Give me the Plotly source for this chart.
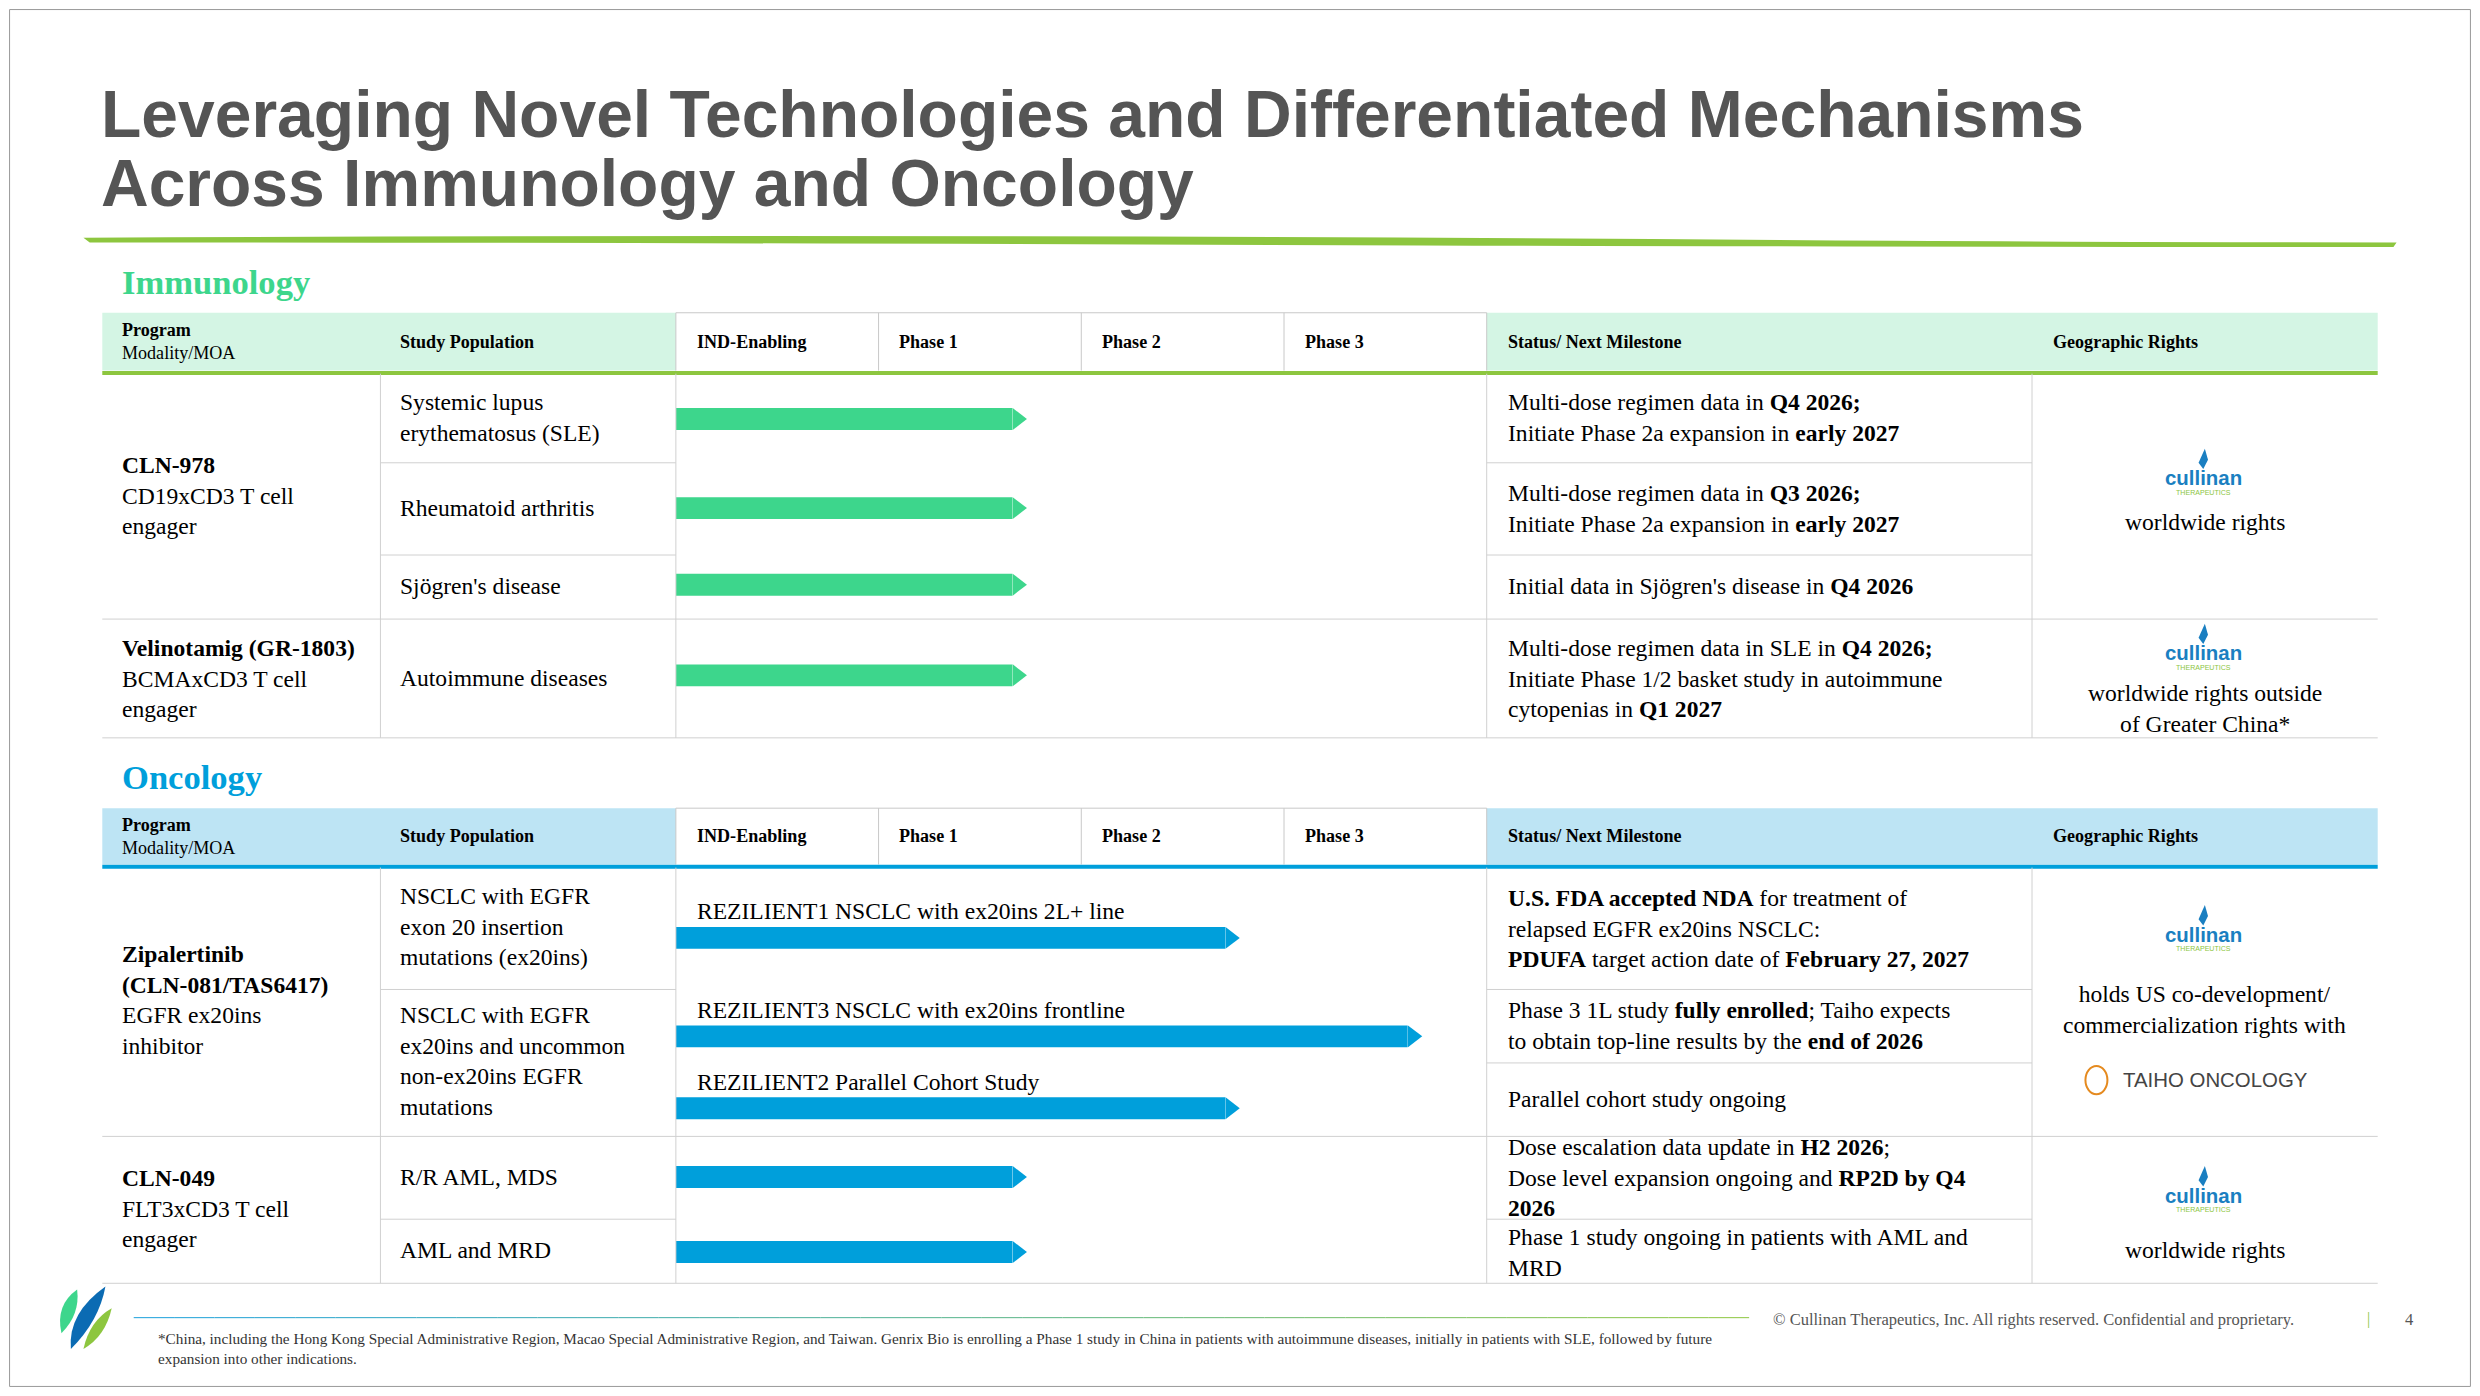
import plotly.graph_objects as go

W, H = 2464, 1380
S = W / 1568  # font scale from reference px

phases = ["IND-Enabling", "Phase 1", "Phase 2", "Phase 3"]

imm_bar_rows = ["SLE", "RA", "Sjogren", "Autoimmune"]
imm_bar_y = [263, 320, 369, 427]
imm_bar_end = [1.73, 1.73, 1.73, 1.73]

onc_bar_rows = ["REZILIENT1", "REZILIENT3", "REZILIENT2", "R/R AML, MDS", "AML and MRD"]
onc_bar_y = [595, 658, 704, 748, 796]
onc_bar_end = [2.78, 3.68, 2.78, 1.73, 1.73]
onc_bar_labels = ["REZILIENT1 NSCLC with ex20ins 2L+ line", "REZILIENT3 NSCLC with ex20ins frontline",
                  "REZILIENT2 Parallel Cohort Study", "", ""]

GREEN = "#3dd68c"
BLUE = "#009fdb"
GRID = "#d0d0d0"
SERIF = "Liberation Serif"

fig = go.Figure()

def arrows(ends, ys, color):
    fig.add_trace(go.Bar(x=[e - 0.07 for e in ends], y=ys, base=0, orientation="h", width=14,
                         marker=dict(color=color, line=dict(width=0)), xaxis="x2", yaxis="y",
                         showlegend=False, hoverinfo="skip"))
    fig.add_trace(go.Scatter(x=[e - 0.045 for e in ends], y=ys, mode="markers", xaxis="x2", yaxis="y",
                             marker=dict(symbol="triangle-right", size=19, color=color, line=dict(width=0)),
                             showlegend=False, hoverinfo="skip"))

arrows(imm_bar_end, imm_bar_y, GREEN)
arrows(onc_bar_end, onc_bar_y, BLUE)

shapes = []
ann = []

def rect(x0, y0, x1, y1, fill, line=None, lw=0):
    shapes.append(dict(type="rect", xref="x", yref="y", x0=x0, y0=y0, x1=x1, y1=y1,
                       fillcolor=fill, line=dict(color=line or fill, width=lw), layer="below"))

def hline(x0, x1, y, color=GRID, w=1):
    shapes.append(dict(type="line", xref="x", yref="y", x0=x0, x1=x1, y0=y, y1=y, line=dict(color=color, width=w)))

def vline(x, y0, y1, color=GRID, w=1):
    shapes.append(dict(type="line", xref="x", yref="y", x0=x, x1=x, y0=y0, y1=y1, line=dict(color=color, width=w)))

def text(x, y, t, size=15, color="#000", font=SERIF, anchor="left", yanchor="middle"):
    ann.append(dict(x=x, y=y, xref="x", yref="y", text=t, showarrow=False, xanchor=anchor, yanchor=yanchor,
                    align=anchor if anchor != "center" else "center",
                    font=dict(family=font, size=size * S, color=color)))

# slide border
shapes.append(dict(type="rect", xref="x", yref="y", x0=1, y0=1, x1=1567, y1=882, line=dict(color="#999", width=1)))

# title
text(58, 68, "<b>Leveraging Novel Technologies and Differentiated Mechanisms</b>",
     size=42, color="#555555", font="Liberation Sans")
text(58, 112, "<b>Across Immunology and Oncology</b>", size=42, color="#555555", font="Liberation Sans")
shapes.append(dict(type="path", xref="x", yref="y",
                   path="M 48 147 Q 600 144 1200 149 Q 1400 150 1520 150 L 1518 153 Q 1300 153 900 152 Q 400 150 52 150 Z",
                   fillcolor="#8dc63f", line=dict(width=0)))

cols = [60, 237, 425, 554, 683, 812, 941, 1288, 1508]
head_x = [71, 248, 437, 566, 695, 824, 953, 1300]
head_t = ["Study Population"] + phases + ["Status/ Next Milestone", "Geographic Rights"]

def header(y0, y1, fill, linecolor, title, tcolor):
    text(71, y0 - 20, "<b>" + title + "</b>", size=22, color=tcolor)
    rect(60, y0, 1508, y1, fill)
    for x in cols[2:7]:
        vline(x, y0, y1, color="#c8c8c8")
    hline(425, 941, y0, color="#c8c8c8")
    hline(60, 1508, y1 + 1.5, color=linecolor, w=4)
    text(71, (y0 + y1) / 2, "<b>Program</b><br>Modality/MOA", size=11.5)
    for x, t in zip(head_x[1:], head_t):
        text(x, (y0 + y1) / 2, "<b>" + t + "</b>", size=11.5)

header(195, 232, "#d4f5e4", "#8dc63f", "Immunology", GREEN)
header(512, 548, "#bde4f4", BLUE, "Oncology", BLUE)

# immunology grid
for x in [237, 425, 941, 1288]:
    vline(x, 234, 467)
for y in [291, 350]:
    hline(237, 425, y)
    hline(941, 1288, y)
hline(60, 1508, 391)
hline(60, 1508, 467)

text(71, 312, "<b>CLN-978</b><br>CD19xCD3 T cell<br>engager")
text(248, 262, "Systemic lupus<br>erythematosus (SLE)")
text(248, 320, "Rheumatoid arthritis")
text(248, 370, "Sjögren's disease")
text(953, 262, "Multi-dose regimen data in <b>Q4 2026;</b><br>Initiate Phase 2a expansion in <b>early 2027</b>")
text(953, 320, "Multi-dose regimen data in <b>Q3 2026;</b><br>Initiate Phase 2a expansion in <b>early 2027</b>")
text(953, 370, "Initial data in Sjögren's disease in <b>Q4 2026</b>")
text(71, 429, "<b>Velinotamig (GR-1803)</b><br>BCMAxCD3 T cell<br>engager")
text(248, 429, "Autoimmune diseases")
text(953, 429, "Multi-dose regimen data in SLE in <b>Q4 2026;</b><br>Initiate Phase 1/2 basket study in autoimmune<br>cytopenias in <b>Q1 2027</b>")

def cullinan(x, y):
    text(x, y, "<b>cullinan</b>", size=13, color="#1a7fc1", font="Liberation Sans", anchor="center")
    text(x, y + 9, "THERAPEUTICS", size=4.5, color="#8dc63f", font="Liberation Sans", anchor="center")
    shapes.append(dict(type="path", xref="x", yref="y",
                       path=f"M {x} {y-6} L {x-3} {y-10} L {x+1} {y-19} L {x+3} {y-12} Z",
                       fillcolor="#1a7fc1", line=dict(width=0)))

cullinan(1397, 301)
text(1398, 329, "worldwide rights", anchor="center")
cullinan(1397, 413)
text(1398, 448, "worldwide rights outside<br>of Greater China*", anchor="center")

# oncology grid
for x in [237, 425, 941, 1288]:
    vline(x, 550, 816)
hline(237, 425, 628)
hline(941, 1288, 628)
hline(941, 1288, 675)
hline(60, 1508, 722)
hline(237, 425, 775)
hline(941, 1288, 775)
hline(60, 1508, 816)

text(71, 635, "<b>Zipalertinib</b><br><b>(CLN-081/TAS6417)</b><br>EGFR ex20ins<br>inhibitor")
text(248, 588, "NSCLC with EGFR<br>exon 20 insertion<br>mutations (ex20ins)")
text(248, 674, "NSCLC with EGFR<br>ex20ins and uncommon<br>non-ex20ins EGFR<br>mutations")
for y, lab in zip(onc_bar_y[:3], onc_bar_labels[:3]):
    text(437, y - 17, lab)
text(953, 589, "<b>U.S. FDA accepted NDA</b> for treatment of<br>relapsed EGFR ex20ins NSCLC:<br><b>PDUFA</b> target action date of <b>February 27, 2027</b>")
text(953, 651, "Phase 3 1L study <b>fully enrolled</b>; Taiho expects<br>to obtain top-line results by the <b>end of 2026</b>")
text(953, 698, "Parallel cohort study ongoing")
text(71, 768, "<b>CLN-049</b><br>FLT3xCD3 T cell<br>engager")
text(248, 748, "R/R AML, MDS")
text(248, 795, "AML and MRD")
text(953, 748, "Dose escalation data update in <b>H2 2026</b>;<br>Dose level expansion ongoing and <b>RP2D by Q4</b><br><b>2026</b>")
text(953, 796, "Phase 1 study ongoing in patients with AML and<br>MRD")

cullinan(1397, 593)
text(1398, 641, "holds US co-development/<br>commercialization rights with", anchor="center")
shapes.append(dict(type="circle", xref="x", yref="y", x0=1322, y0=677, x1=1336, y1=695,
                   fillcolor="#fff", line=dict(color="#e58a1f", width=2)))
text(1405, 686, "TAIHO ONCOLOGY", size=13, color="#444", font="Liberation Sans", anchor="center")
cullinan(1397, 760)
text(1398, 795, "worldwide rights", anchor="center")

# footer
shapes.append(dict(type="path", xref="x", yref="y", path="M 40 858 Q 38 835 62 818 Q 58 840 40 858 Z",
                   fillcolor="#0b6bb3", line=dict(width=0)))
shapes.append(dict(type="path", xref="x", yref="y", path="M 34 848 Q 30 830 44 820 Q 46 836 34 848 Z",
                   fillcolor="#3dd68c", line=dict(width=0)))
shapes.append(dict(type="path", xref="x", yref="y", path="M 48 858 Q 52 840 66 832 Q 62 850 48 858 Z",
                   fillcolor="#8dc63f", line=dict(width=0)))
n = 40
for i in range(n):
    x0 = 80 + (1108 - 80) * i / n
    x1 = 80 + (1108 - 80) * (i + 1) / n
    t = i / (n - 1)
    r, g, b = int(0x1a + (0x8d - 0x1a) * t), int(0x9f + (0xc6 - 0x9f) * t), int(0xdb + (0x3f - 0xdb) * t)
    hline(x0, x1, 838, color=f"rgb({r},{g},{b})", w=1)
text(94, 858, "*China, including the Hong Kong Special Administrative Region, Macao Special Administrative Region, and Taiwan. Genrix Bio is enrolling a Phase 1 study in China in patients with autoimmune diseases, initially in patients with SLE, followed by future<br>expansion into other indications.",
     size=9.7, color="#333")
text(1122, 839, "© Cullinan Therapeutics, Inc. All rights reserved. Confidential and proprietary.", size=10.5, color="#555")
text(1502, 839, "|", size=10, color="#8dc63f", anchor="center")
text(1528, 839, "4", size=10.5, color="#555", anchor="center")

fig.update_layout(
    width=W, height=H, margin=dict(l=0, r=0, t=0, b=0),
    paper_bgcolor="white", plot_bgcolor="white", barmode="overlay",
    xaxis=dict(range=[0, 1568], visible=False, domain=[0, 1], fixedrange=True),
    xaxis2=dict(range=[0, 4], visible=False, domain=[425 / 1568, 941 / 1568], anchor="y"),
    yaxis=dict(range=[883, 0], visible=False, domain=[0, 1]),
    shapes=shapes, annotations=ann,
)
fig.write_html("out.html")
